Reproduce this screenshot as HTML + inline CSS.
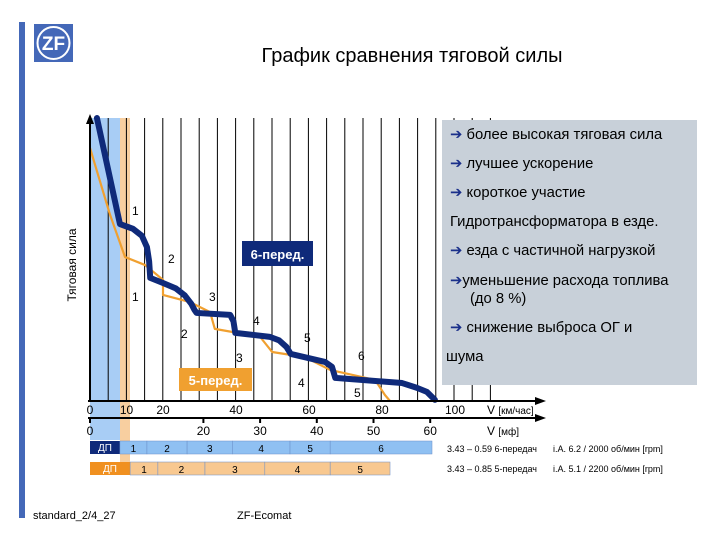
<!DOCTYPE html>
<html><head><meta charset="utf-8"><style>
body{margin:0;width:720px;height:540px;background:#fff;overflow:hidden;font-family:"Liberation Sans","DejaVu Sans",sans-serif}
svg{display:block}
</style></head><body>
<svg width="720" height="540" viewBox="0 0 720 540" font-family="Liberation Sans, DejaVu Sans, sans-serif">
<rect x="19" y="22" width="6" height="496" fill="#4468b8"/>
<g>
<rect x="34" y="24" width="39" height="38" fill="#4468b8"/>
<circle cx="53.5" cy="43" r="16" fill="none" stroke="#fff" stroke-width="2"/>
<text x="53.5" y="50" font-size="19" font-weight="bold" fill="#fff" text-anchor="middle">ZF</text>
</g>
<text x="412" y="62" font-size="20" text-anchor="middle" fill="#000">График сравнения тяговой силы</text>
<rect x="90" y="118" width="30" height="322" fill="#a8cdf5"/>
<rect x="120" y="118" width="10" height="357" fill="#f8cfa0"/>
<g id="grid"></g>
<rect x="442" y="120" width="255" height="265" fill="#c8d0d9"/>
<g font-size="14.8" fill="#000">
<text x="450" y="139"><tspan fill="#1a2f8a" font-weight="bold">➔</tspan> более высокая тяговая сила</text>
<text x="450" y="168"><tspan fill="#1a2f8a" font-weight="bold">➔</tspan> лучшее ускорение</text>
<text x="450" y="197"><tspan fill="#1a2f8a" font-weight="bold">➔</tspan> короткое участие</text>
<text x="450" y="226">Гидротрансформатора в езде.</text>
<text x="450" y="255"><tspan fill="#1a2f8a" font-weight="bold">➔</tspan> езда с частичной нагрузкой</text>
<text x="450" y="285"><tspan fill="#1a2f8a" font-weight="bold">➔</tspan>уменьшение расхода топлива</text>
<text x="470" y="303">(до 8 %)</text>
<text x="450" y="332"><tspan fill="#1a2f8a" font-weight="bold">➔</tspan> снижение  выброса ОГ и</text>
<text x="446" y="361">шума</text>
</g>
<text transform="translate(76,265) rotate(-90)" font-size="12" text-anchor="middle">Тяговая сила</text>
<g id="curves"></g>
<g id="axes"></g>
<g font-size="12" fill="#000">
<text x="132" y="215">1</text><text x="168" y="263">2</text><text x="209" y="301">3</text><text x="253" y="325">4</text><text x="304" y="342">5</text><text x="358" y="360">6</text>
<text x="132" y="301">1</text><text x="181" y="338">2</text><text x="236" y="362">3</text><text x="298" y="387">4</text><text x="354" y="397">5</text>
</g>
<rect x="242" y="241" width="71" height="25" fill="#0f2a7a"/>
<text x="277.5" y="259" font-size="13" font-weight="bold" fill="#fff" text-anchor="middle">6-перед.</text>
<rect x="179" y="368" width="73" height="23" fill="#f0a030"/>
<text x="215.5" y="385" font-size="13" font-weight="bold" fill="#fff" text-anchor="middle">5-перед.</text>
<g id="bars"></g>
<g font-size="9" fill="#000">
<text x="447" y="452">3.43 – 0.59 6-передач</text>
<text x="553" y="452">i.A. 6.2 / 2000 об/мин [rpm]</text>
<text x="447" y="472">3.43 – 0.85 5-передач</text>
<text x="553" y="472">i.A. 5.1 / 2200 об/мин [rpm]</text>
</g>
<text x="33" y="519" font-size="11">standard_2/4_27</text>
<text x="237" y="519" font-size="11">ZF-Ecomat</text>
</svg>
<script>
const NS='http://www.w3.org/2000/svg';
const kmhTicks=[0,10,20,40,60,80,100];
const mphTicks=[0,20,30,40,50,60];
const blueSpeed=[1.9,8.2,11.8,14.2,15.6,16.2,16.5,20.0,23.5,26.0,27.8,28.6,29.2,38.4,39.3,39.8,49.3,51.8,53.8,55.0,64.4,66.3,67.2,85.5,89.6,92.3,94.5];
const blueForce=[99.3,62.1,60.4,58.0,54.0,49.0,43.2,41.4,39.5,37.0,34.0,32.0,30.9,30.2,28.0,23.9,22.5,21.3,19.0,16.5,13.7,12.0,8.1,6.3,4.6,3.2,0.4];
const orangeSpeed=[0,5.5,9.6,15.1,20.0,20.0,27.4,32.9,34.2,46.6,49.9,58.9,65.8,78.1,80.8,82.2];
const orangeForce=[88.8,65.3,50.5,47.7,42.5,37.2,34.7,31.2,25.3,22.5,17.2,15.4,10.9,7.4,2.1,0];
const sixGearEdges=[8.2,15.6,26.6,39.0,54.8,65.8,93.7];
const sixGearNames=['1','2','3','4','5','6'];
const fiveGearEdges=[11,18.6,31.5,47.9,65.8,82.2];
const fiveGearNames=['1','2','3','4','5'];
const X=v=>90+v*3.65, Y=f=>401-f*2.85, XM=m=>90+m*5.67;
function el(t,a,p){const e=document.createElementNS(NS,t);for(const k in a)e.setAttribute(k,a[k]);(p||document.querySelector('svg')).appendChild(e);return e;}
const grid=document.getElementById('grid');
for(let i=0;i<=22;i++){const x=90+i*18.2;const l=el('line',{x1:x,x2:x,y1:118,y2:401,stroke:'#000','stroke-width':1},grid);

}
const cv=document.getElementById('curves');
const ob=el('polyline',{points:orangeSpeed.map((v,i)=>X(v)+','+Y(orangeForce[i])).join(' '),fill:'none',stroke:'#f0a030','stroke-width':2.2,'stroke-linejoin':'round'},cv);


const bl=el('polyline',{points:blueSpeed.map((v,i)=>X(v)+','+Y(blueForce[i])).join(' '),fill:'none',stroke:'#0f2a7a','stroke-width':6,'stroke-linejoin':'round','stroke-linecap':'round'},cv);


const ax=document.getElementById('axes');
function line(a,n){const l=el('line',Object.assign({stroke:'#000','stroke-width':2},a),ax);return l;}
line({x1:90,y1:401,x2:90,y2:118},'y-axis');
el('path',{d:'M86,124 L90,114 L94,124 Z',fill:'#000'},ax);
line({x1:88,y1:401,x2:540,y2:401},'x-axis-kmh');
el('path',{d:'M535,397 L546,401 L535,405 Z',fill:'#000'},ax);
line({x1:88,y1:418,x2:540,y2:418},'x-axis-mph');
el('path',{d:'M535,414 L546,418 L535,422 Z',fill:'#000'},ax);
kmhTicks.forEach(v=>{const t=el('text',{x:X(v),y:414,'font-size':12,'text-anchor':'middle'},ax);t.textContent=v;

});
mphTicks.forEach(m=>{line({x1:XM(m),y1:418,x2:XM(m),y2:423},'mph-tick');const t=el('text',{x:XM(m),y:435,'font-size':12,'text-anchor':'middle'},ax);t.textContent=m;

});
const u1=el('text',{x:487,y:414,'font-size':12},ax);u1.innerHTML='V <tspan font-size="10">[км/час]</tspan>';


const u2=el('text',{x:487,y:435,'font-size':12},ax);u2.innerHTML='V <tspan font-size="10">[мф]</tspan>';


const bars=document.getElementById('bars');
function gearBar(edges,names,y,h,light,dark,dpEnd,prefix){
 const d=el('rect',{x:90,y:y,width:dpEnd-90,height:h,fill:dark},bars);
 
 
 const dt=el('text',{x:(90+dpEnd)/2,y:y+h-3,'font-size':10,fill:'#fff','text-anchor':'middle'},bars);dt.textContent='ДП';
 
 
 for(let i=0;i<names.length;i++){const x1=X(edges[i]),x2=X(edges[i+1]);
  const r=el('rect',{x:x1,y:y,width:x2-x1,height:h,fill:light,stroke:'#6a8ec8','stroke-width':0.5},bars);
  
  
  const t=el('text',{x:(x1+x2)/2,y:y+h-2,'font-size':10,'text-anchor':'middle'},bars);t.textContent=names[i];
  
  }
}
gearBar(sixGearEdges,sixGearNames,441,13,'#8fc0f2','#0f2a7a',120,'six');
gearBar(fiveGearEdges,fiveGearNames,462,13,'#f8c890','#f09020',130,'five');
</script>
</body></html>
